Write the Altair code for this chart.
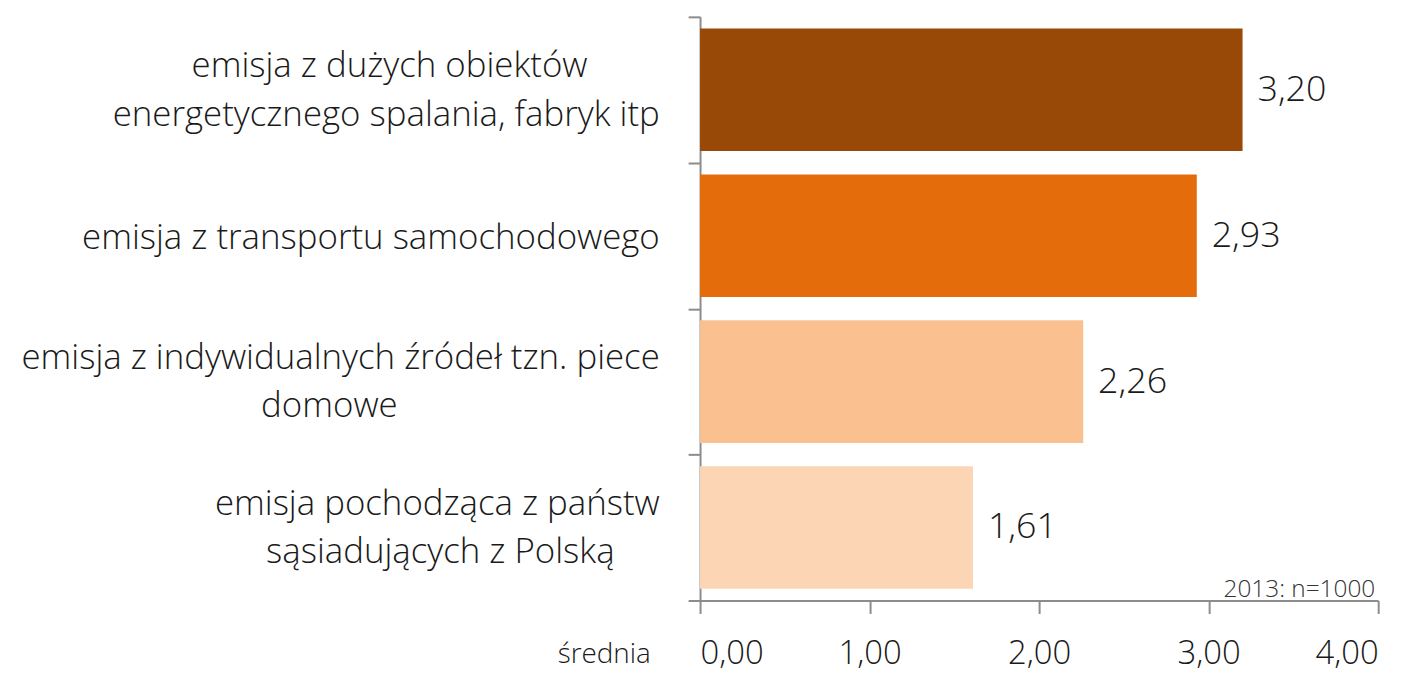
import altair as alt
import pandas as pd

NB = "\u00a0"
END = "\u200b"
categories = [
    "emisja z dużych obiektów" + NB * 8 + END + "|energetycznego spalania, fabryk itp",
    "emisja z transportu samochodowego",
    "emisja z indywidualnych źródeł tzn. piece|domowe" + NB * 29 + END,
    "emisja pochodząca z państw|sąsiadujących z Polską" + NB * 5 + END,
]
values = [3.20, 2.93, 2.26, 1.61]
colors = ["#984807", "#E46C0A", "#FAC090", "#FCD5B5"]
x_ticks = [0, 1, 2, 3, 4]
note = "2013: n=1000"
x_title = "średnia"

FONT = "Open Sans"
W, H = 682, 587
LH = 49

df = pd.DataFrame({"cat": categories, "value": values, "color": colors})

y_enc = alt.Y(
    "cat:N",
    sort=categories,
    scale=alt.Scale(paddingInner=0, paddingOuter=0),
    axis=alt.Axis(
        title=None,
        tickBand="extent",
        tickSize=12,
        labelPadding=29,
        labelFontSize=35,
        labelFont=FONT,
        labelFontWeight=300,
        labelColor="#1a1a1a",
        labelLimit=720,
        labelLineHeight=LH,
        labelExpr="split(datum.label, '|')",
        labelOffset={
            "condition": {"test": "indexof(datum.label, '|') >= 0", "value": -LH / 2},
            "value": 2,
        },
    ),
)

x_enc = alt.X(
    "value:Q",
    scale=alt.Scale(domain=[0, 4], nice=False),
    axis=alt.Axis(
        values=x_ticks,
        title=x_title,
        titleFont=FONT,
        titleFontWeight=300,
        titleFontSize=28,
        titleColor="#1a1a1a",
        titleX=-50,
        titleY=54,
        titleAlign="right",
        titleBaseline="middle",
        tickSize=13,
        labelPadding=24,
        labelFontSize=33,
        labelFont=FONT,
        labelFontWeight=300,
        labelColor="#1a1a1a",
        labelExpr="replace(format(datum.value, '.2f'), '.', ',')",
        grid=False,
    ),
)

bars = alt.Chart(df).mark_bar(height=alt.RelativeBandSize(0.84)).encode(
    y=y_enc,
    x=x_enc,
    color=alt.Color("color:N", scale=None),
)

labels = alt.Chart(df).transform_calculate(
    lbl="replace(format(datum.value, '.2f'), '.', ',')"
).mark_text(
    align="left", baseline="middle", dx=15, fontSize=36, font=FONT, fontWeight=300, color="#1a1a1a"
).encode(
    y=alt.Y("cat:N", sort=categories),
    x=alt.X("value:Q"),
    text="lbl:N",
)

note_layer = alt.Chart(pd.DataFrame({"t": [note]})).mark_text(
    align="right", baseline="alphabetic", fontSize=24.5, font=FONT, fontWeight=300, color="#333333"
).encode(
    x=alt.value(W - 3),
    y=alt.value(H - 4),
    text="t:N",
)

chart = alt.layer(bars, labels, note_layer).properties(
    width=W,
    height=H,
    autosize=alt.AutoSizeParams(type="none"),
    padding={"left": 696, "top": 7, "right": 31, "bottom": 71},
).configure_axis(
    domainColor="#8c8c8c",
    domainWidth=2,
    tickColor="#8c8c8c",
    tickWidth=2,
).configure_view(stroke=None)

chart.save("out.html", embed_options={"renderer": "svg", "actions": False})
